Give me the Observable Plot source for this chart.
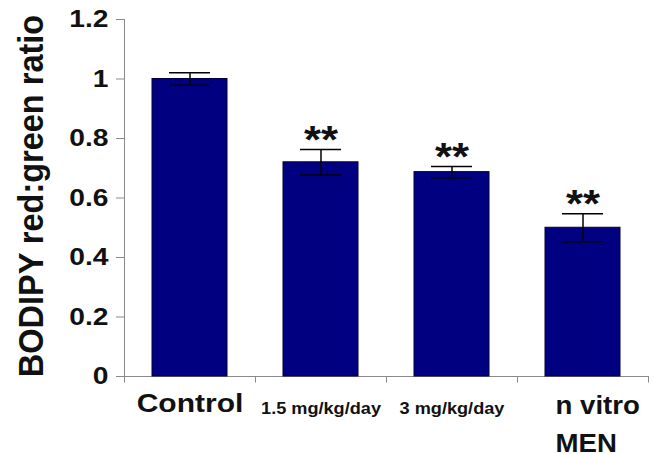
<!DOCTYPE html>
<html>
<head>
<meta charset="utf-8">
<script src="https://cdn.jsdelivr.net/npm/d3@7"></script>
<script src="https://cdn.jsdelivr.net/npm/@observablehq/plot@0.6"></script>
<style>
  html, body { margin: 0; padding: 0; background: #fff; }
  svg { display: block; }
</style>
</head>
<body>
<div id="chart"></div>
<script>
// ---- data ----
const categories = ["Control", "1.5 mg/kg/day", "3 mg/kg/day", "In vitro MEN"];
const values = [1.0, 0.72, 0.687, 0.50];
const errors = [0.021, 0.043, 0.019, 0.047];
const stars = ["", "**", "**", "**"];
const xLabels = ["Control", "1.5 mg/kg/day", "3 mg/kg/day", "n vitro\nMEN"];
const yTicks = [0, 0.2, 0.4, 0.6, 0.8, 1, 1.2];
const yLabel = "BODIPY red:green ratio";

const data = categories.map((c, i) => ({cat: c, value: values[i], err: errors[i], star: stars[i], label: xLabels[i]}));

const W = 654, H = 454, mL = 124, mR = 6, mT = 19, mB = 78;
const step = (W - mL - mR) / categories.length;
const font = "'Liberation Sans', Arial, Helvetica, sans-serif";
const axisColor = "#8a8a8a";
const last = data.slice(3, 4);

const chart = Plot.plot({
  width: W,
  height: H,
  marginLeft: mL,
  marginRight: mR,
  marginTop: mT,
  marginBottom: mB,
  style: {fontFamily: font, background: "#fff", overflow: "visible"},
  x: {domain: categories, paddingInner: 0.43, paddingOuter: 0.215, axis: null},
  y: {domain: [0, 1.2], axis: null},
  marks: [
    // y axis line and ticks
    Plot.ruleX([categories[0]], {x: d => d, dx: -step / 2, y1: 0, y2: 1.2, stroke: axisColor, strokeWidth: 1}),
    Plot.axisY({ticks: yTicks, tickSize: 8, tickFormat: () => "", label: null, stroke: axisColor}),
    // x axis line and boundary ticks
    Plot.ruleY([0], {stroke: axisColor, strokeWidth: 1}),
    Plot.ruleX(categories, {x: d => d, dx: -step / 2, y1: 0, y2: -0.022, stroke: axisColor}),
    Plot.ruleX([categories[categories.length - 1]], {x: d => d, dx: step / 2, y1: 0, y2: -0.022, stroke: axisColor}),
    // bars
    Plot.barY(data, {x: "cat", y: "value", fill: "#000080", stroke: "#00003a", strokeWidth: 1}),
    // error bars
    Plot.ruleX(data, {x: "cat", y1: d => d.value - d.err, y2: d => d.value + d.err, stroke: "#000", strokeWidth: 1.5}),
    Plot.tickY(data, {x: "cat", y: d => d.value + d.err, insetLeft: (step - 15) / 2, insetRight: (step - 15) / 2, stroke: "#000", strokeWidth: 1.5}),
    Plot.tickY(data, {x: "cat", y: d => d.value - d.err, insetLeft: (step - 15) / 2, insetRight: (step - 15) / 2, stroke: "#000", strokeWidth: 1.5}),
    // significance stars
    Plot.text(data.filter(d => d.star), {x: "cat", y: d => d.value + d.err, text: "star", dy: -9, fontSize: 38, fontWeight: "bold", fill: "#111"}),
    // y tick labels
    Plot.text(yTicks, {y: d => d, text: d => String(d), frameAnchor: "left", textAnchor: "end", dx: -16, fontSize: 23.5, fontWeight: "bold", fill: "#111"}),
    // y label
    Plot.text([yLabel], {frameAnchor: "left", textAnchor: "middle", rotate: -90, dx: -93, dy: -2, fontSize: 32.5, fontWeight: "bold", fill: "#111"}),
    // x labels
    Plot.text(data.slice(0, 1), {x: "cat", text: "label", frameAnchor: "bottom", lineAnchor: "top", dy: 18, fontSize: 25, fontWeight: "bold", fill: "#111"}),
    Plot.text(data.slice(1, 3), {x: "cat", text: "label", frameAnchor: "bottom", lineAnchor: "top", dy: 25.3, fontSize: 16.5, fontWeight: "bold", fill: "#111"}),
    Plot.text(last, {x: "cat", text: d => d.label.split("\n")[0], frameAnchor: "bottom", lineAnchor: "top", textAnchor: "start", dx: -27.5, dy: 19.5, fontSize: 24.9, fontWeight: "bold", fill: "#111"}),
    Plot.text(last, {x: "cat", text: d => d.label.split("\n")[1], frameAnchor: "bottom", lineAnchor: "top", textAnchor: "start", dx: -27.5, dy: 57.5, fontSize: 24.9, fontWeight: "bold", fill: "#111"})
  ]
});

// horizontal stretch of the original lettering
const stretch = {"25": "scale(1.2,1)", "24.9": "scale(1.11,1)", "23.5": "scale(1.2,1)", "16.5": "scale(1.1,1)", "38": "scale(1.15,1)", "32.5": "scale(1,1.08)"};
d3.select(chart).selectAll("text").each(function () {
  const g = this.parentNode;
  const fs = g && g.getAttribute ? g.getAttribute("font-size") : null;
  if (fs && stretch[fs]) {
    const t = this.getAttribute("transform") || "";
    this.setAttribute("transform", (t + " " + stretch[fs]).trim());
  }
});

document.getElementById("chart").appendChild(chart);
</script>
</body>
</html>
